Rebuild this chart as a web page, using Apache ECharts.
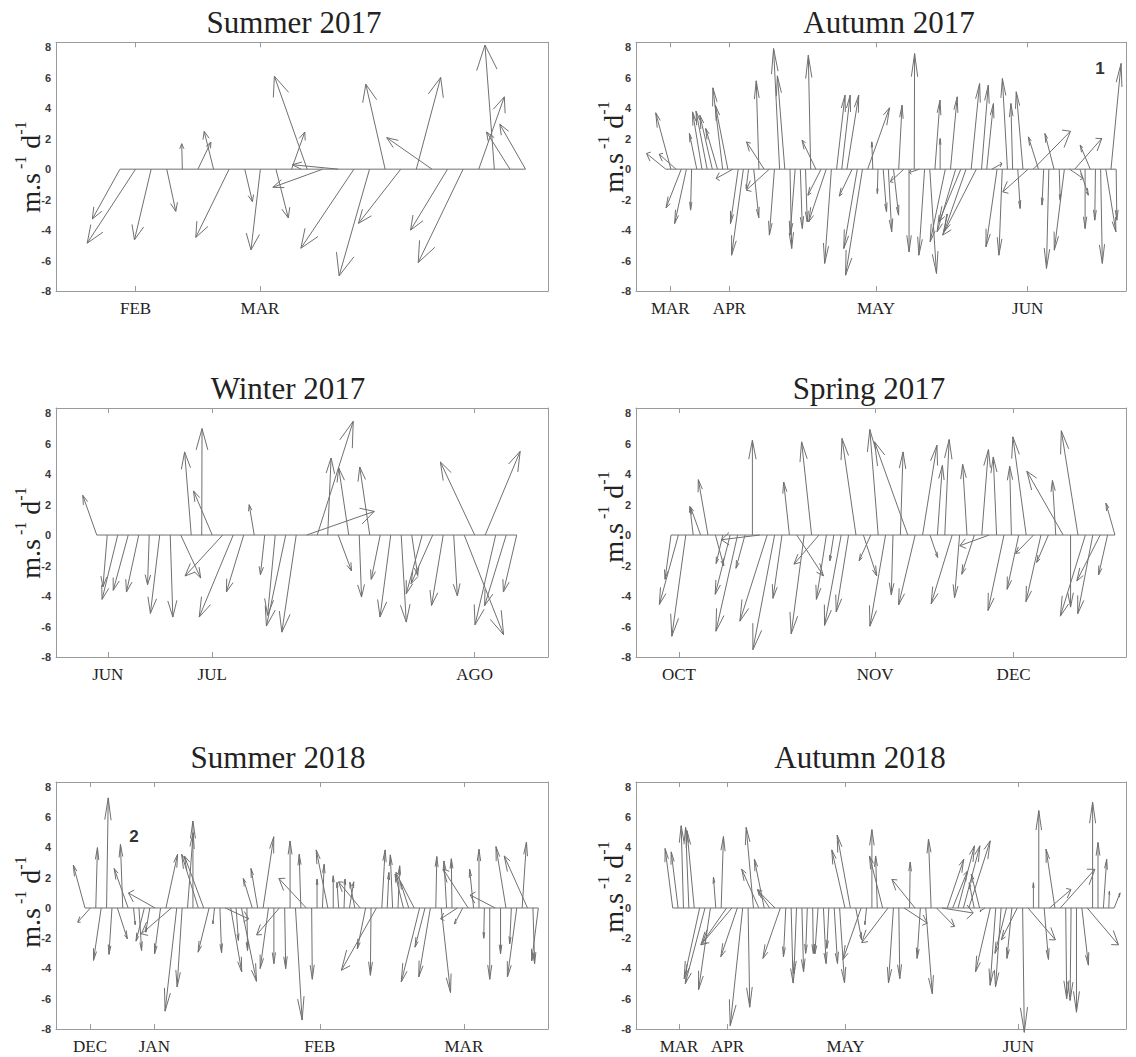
<!DOCTYPE html>
<html>
<head>
<meta charset="utf-8">
<script src="https://cdn.jsdelivr.net/npm/echarts@6/dist/echarts.min.js"></script>
<style>
  html, body { margin: 0; padding: 0; background: #fff; }
  #chart { width: 1136px; height: 1057px; }
</style>
</head>
<body>
<div id="chart"></div>
<script>
// Daily current vectors (u east, v north), one arrow per sample, drawn as feather plots.

// Summer 2017
const uSum17 = [-1.77, -3.10, -1.07, 0.58, -0.04, 0.83, -0.60, -2.14, 0.49, -0.60, 0.79, 0.85, -2.10, -3.20, -2.95, -3.40, -1.95, -1.24, -2.71, 1.56, -2.90, -2.37, -2.88, 1.64, -0.60, -1.50, -1.65];
const vSum17 = [-3.27, -4.86, -4.64, -2.77, 1.67, 1.78, 2.48, -4.48, -2.13, -5.30, -3.20, 2.44, 6.10, -1.19, 0.29, -5.19, -7.00, 5.58, -3.56, 6.02, 2.07, -4.00, -6.13, 4.75, 8.15, 2.44, 2.95];
const tickPosSum17 = [2.0, 9.97];
const tickLabSum17 = ['FEB', 'MAR'];

// Autumn 2017
const uAut17 = [-3.71, -2.93, -3.26, -2.93, -2.28, -0.20, -1.43, -1.82, -2.15, -2.41, -2.28, -1.89, -2.41, -3.26, -1.50, -2.28, -0.46, 0.98, -0.52, -3.39, -4.43, -0.98, -1.17, -1.43, 0.33, -0.98, 0.39, 0.33, -0.46, -2.67, -2.54, -3.39, -1.30, 1.63, 1.63, 2.28, -2.48, -2.61, -3.26, 4.23, -0.20, -0.13, 0.65, 0.65, 0.98, 0.65, -2.61, 0.00, 0.07, -1.95, -1.11, 1.30, 0.98, 0.00, -2.93, 1.30, -3.58, -4.23, -4.23, 1.63, -6.51, 1.30, 1.30, 1.95, -2.15, -0.65, -0.98, -0.33, 0.46, -1.30, -4.89, 7.17, -1.95, -0.33, -0.46, -1.76, 0.20, -1.95, 2.61, 5.21, 1.63, 0.00, -1.95, -0.13, 0.33, 1.95, 1.95, 0.13];
const vAut17 = [1.03, 3.70, 0.98, -2.54, -3.57, -2.69, 2.34, 3.76, 3.81, 3.54, 2.67, 5.34, 4.20, -0.61, -3.57, -5.65, -1.27, -3.19, 5.80, 1.79, -1.38, -4.33, 7.92, 6.13, -5.21, -4.33, -3.90, -3.46, 7.48, 1.90, -1.71, -3.46, -6.19, 4.86, 4.86, 4.86, -1.77, -5.21, -6.96, 4.03, 1.79, -1.60, -2.80, -4.11, -3.02, 4.20, -0.83, -5.43, 7.59, -0.22, -5.65, -6.85, 4.53, 2.01, -4.77, 4.75, -4.11, -3.46, -4.11, 5.62, -4.33, 5.51, 4.31, 0.37, -5.10, -5.65, 5.95, 4.31, -2.58, 5.08, -1.49, 2.49, 2.12, -2.36, -6.52, 2.34, -2.04, -5.32, -0.61, 2.01, -1.71, -3.90, 1.58, -3.35, -6.19, -4.11, 6.94, -3.35];
const tickPosAut17 = [1.89, 13.3, 41.6, 70.9];
const tickLabAut17 = ['MAR', 'APR', 'MAY', 'JUN'];

// Winter 2017
const uWin17 = [-1.33, -0.41, -1.49, -1.43, -1.17, -0.16, -0.89, 0.25, 1.90, -0.63, 0.03, -1.78, -3.59, -3.24, -1.65, -0.48, -0.41, -0.73, -1.84, -1.37, 6.44, 3.43, 0.32, 1.27, -0.95, 0.22, -0.95, -0.86, -1.02, 0.48, 0.57, -1.52, -2.06, -1.11, 0.35, 3.75, -3.27, 3.33, -1.97, -2.06, -1.27];
const vWin17 = [2.60, -3.41, -4.22, -3.63, -3.74, -3.26, -5.14, -5.38, -2.82, 5.45, 6.98, 2.89, -2.69, -5.38, -3.74, 1.99, -2.60, -5.27, -5.97, -6.37, 1.55, 7.46, 5.05, -2.36, 4.40, -4.07, 4.46, -2.91, -5.38, -5.71, -2.65, -3.85, -3.19, -4.62, -4.00, -6.54, 4.79, 5.49, -5.89, -4.64, -3.74];
const tickPosWin17 = [2.05, 12.0, 37.0];
const tickLabWin17 = ['JUN', 'JUL', 'AGO'];

// Spring 2017
const uSpr17 = [-0.81, -2.57, -1.89, -0.45, -1.35, -1.31, 1.13, -0.90, -2.03, -2.93, -1.22, 0.00, -5.18, -3.69, -2.93, -1.22, -0.77, 3.60, -1.76, -1.35, -3.38, -1.35, -0.54, -2.25, -1.67, -1.89, 1.80, -1.58, -1.13, -2.12, -0.23, 0.36, -4.50, -2.25, 1.94, 1.04, 0.68, 0.59, -2.84, -0.68, -0.59, -1.71, 0.90, -3.96, -0.45, -2.16, -0.23, -1.58, -1.80, -2.43, -2.03, -1.58, -0.45, -4.91, 0.00, -2.25, -3.38, -2.03, -3.15, -1.22, -1.22];
const vSpr17 = [-2.90, -4.55, -6.64, 1.87, 1.82, 3.63, -2.02, -1.87, -3.89, -6.31, -2.18, 6.22, -0.31, -5.65, -7.52, -4.15, 3.47, -2.68, -6.48, 6.11, -1.91, -4.22, -1.69, -5.93, -5.05, 6.33, -2.68, -1.69, 6.92, -5.98, -3.93, 5.45, 6.11, -4.59, 5.89, -1.47, 4.57, 6.26, -4.51, -4.11, 4.64, -2.57, 5.60, -0.70, 5.12, -4.95, 4.51, -3.56, 6.44, -1.21, -4.37, -1.80, 3.58, 4.18, -4.73, 6.84, -5.32, -5.16, -3.01, -2.62, 2.09];
const tickPosSpr17 = [2.08, 28.6, 47.3];
const tickLabSpr17 = ['OCT', 'NOV', 'DEC'];

// Summer 2018
const uSum18 = [-2.16, -2.35, 0.31, -1.42, 0.31, -0.56, 1.85, -0.43, -2.59, 0.31, 0.49, -1.54, -0.74, -4.94, -1.11, 2.16, -5.56, -2.16, -0.93, 1.05, 0.00, -3.09, -3.58, -2.04, -0.31, 0.31, 4.32, 2.04, 0.43, 2.78, 0.12, -1.67, -1.24, 1.98, -1.54, 0.00, -4.20, 0.19, 0.00, 1.24, -0.31, -5.06, 0.12, 0.00, 0.31, -2.16, 0.00, -0.31, 0.19, 0.80, -0.93, -4.01, -1.54, -0.12, -6.49, 0.62, 0.31, -0.43, 0.31, -1.54, -1.54, -3.40, -3.40, -1.85, -2.16, 0.19, 1.73, -0.49, -0.12, -3.09, -1.54, -4.63, -0.74, 0.00, -0.12, 0.00, -4.63, 0.00, -1.85, -0.31, -1.73, 0.80, -4.32, 0.31, -1.24];
const vSum18 = [2.83, -0.94, 3.99, -3.46, 7.28, -3.07, -2.04, 4.21, 2.61, -1.10, -2.81, -2.19, -1.60, 0.99, -3.03, 3.55, -1.71, -6.82, -5.22, 4.98, 5.75, 3.55, 3.44, -2.92, -1.05, -2.96, -0.72, -4.23, -2.15, -4.85, -2.81, 1.95, 2.61, 4.71, -4.00, -3.68, -1.78, -4.01, 4.43, -7.41, 3.55, 1.95, -4.71, 1.91, 2.89, 3.84, 2.13, 1.69, 1.91, 1.73, 1.70, 1.73, -2.70, -4.45, -4.12, 3.84, 2.35, 3.51, 2.79, 2.24, 1.69, 2.35, -4.89, -2.59, -4.56, 3.40, -5.59, 3.11, 3.26, -0.72, -1.05, 2.57, 2.57, 3.88, -2.00, -4.71, 0.86, -3.03, 4.06, -2.37, -4.56, 4.36, 3.44, -3.68, -3.50];
const tickPosSum18 = [1.93, 13.85, 44.5, 71.2];
const tickLabSum18 = ['DEC', 'JAN', 'FEB', 'MAR'];

// Autumn 2018
const uAut18 = [-1.41, -1.28, -0.43, -0.61, -1.35, -2.87, -3.67, -2.20, -0.43, 0.43, -4.77, -5.50, -3.06, -2.32, 0.31, -1.35, -3.18, -1.83, -2.26, -3.06, -3.24, -0.43, 0.37, -0.49, 0.31, -0.31, 0.12, -0.61, 0.49, -0.37, 0.61, 0.92, -2.45, -2.45, 1.10, -3.36, -0.31, 0.00, -0.31, -2.45, -4.89, -0.92, 0.18, 4.28, 0.12, -4.28, -0.61, 1.22, -0.49, 3.36, 5.81, 3.06, 2.75, 3.06, 3.06, 3.98, -0.92, -1.53, -0.92, -2.75, -1.04, -1.04, -2.14, -0.92, -2.94, 0.31, 5.08, 0.00, 0.00, 0.80, 3.98, -1.65, 6.42, 0.18, -0.18, 0.00, 1.22, 5.81, 0.00, 0.00, 0.61, 0.12, 1.10];
const vAut18 = [3.93, 3.71, 5.44, 5.33, 5.11, -4.67, -5.00, -5.40, 2.04, 4.73, -2.44, -2.33, -3.22, -7.78, -6.56, 5.33, 2.56, 3.22, 1.22, 1.11, -3.33, -3.22, -4.96, -4.33, -4.22, -3.00, -3.00, -3.04, -3.67, -2.67, -3.67, -4.96, 3.84, 4.82, -2.11, -3.40, -1.10, 5.18, 3.44, 3.44, -2.29, -4.96, -4.67, -1.00, 3.04, 1.89, -3.33, -5.67, 4.56, -1.22, -0.33, 3.22, 2.44, 4.11, 4.11, 4.44, 1.67, 2.22, -0.22, -4.22, -5.11, -5.22, -3.00, -3.33, -2.10, -8.22, -2.11, 1.67, 6.44, -3.40, 1.22, 3.89, 2.56, -6.00, -6.11, -6.89, -3.78, -2.44, 7.00, 4.33, 3.22, 1.11, 1.00];
const tickPosAut18 = [2.18, 11.2, 33.1, 65.2];
const tickLabAut18 = ['MAR', 'APR', 'MAY', 'JUN'];

const yTicks = [-8, -6, -4, -2, 0, 2, 4, 6, 8];

const ARROW = '#707070';
const FRAME = '#9a9a9a';
const SERIF = '"Liberation Serif", "Times New Roman", serif';
const SANS = '"Liberation Sans", Arial, sans-serif';

// Panel layout: column / row of each plot and its horizontal index range.
const COL_LEFT = [56, 636];
const COL_WIDTH = [492, 490];
const ROW_TOP = [42.3, 408, 782];
const ROW_HEIGHT = [248.7, 249, 247];
const Y_MIN = -8, Y_MAX = 8.33;

const panels = [
  { title: 'Summer 2017', u: uSum17, v: vSum17, ticks: tickPosSum17, labels: tickLabSum17, col: 0, row: 0, xMin: -3.10, xMax: 28.44, titleX: 294, yNameY: 167 },
  { title: 'Autumn 2017', u: uAut17, v: vAut17, ticks: tickPosAut17, labels: tickLabAut17, col: 1, row: 0, xMin: -4.74, xMax: 89.9, titleX: 889, yNameY: 147 },
  { title: 'Winter 2017', u: uWin17, v: vWin17, ticks: tickPosWin17, labels: tickLabWin17, col: 0, row: 1, xMin: -2.88, xMax: 43.98, titleX: 288, yNameY: 533 },
  { title: 'Spring 2017', u: uSpr17, v: vSpr17, ticks: tickPosSpr17, labels: tickLabSpr17, col: 1, row: 1, xMin: -3.73, xMax: 62.49, titleX: 869, yNameY: 517 },
  { title: 'Summer 2018', u: uSum18, v: vSum18, ticks: tickPosSum18, labels: tickLabSum18, col: 0, row: 2, xMin: -4.37, xMax: 86.79, titleX: 278, yNameY: 902 },
  { title: 'Autumn 2018', u: uAut18, v: vAut18, ticks: tickPosAut18, labels: tickLabAut18, col: 1, row: 2, xMin: -5.82, xMax: 85.2, titleX: 860, yNameY: 887 }
];

const TITLE_Y = [22, 388, 757];
const YNAME_X = [28, 611];

// One feather arrow: shaft from (t,0) to (t+u,v) and a head built in data space.
function drawFeather(params, api) {
  const t = api.value(0), u = api.value(1), v = api.value(2);
  const base = api.coord([t, 0]);
  const tip = api.coord([t + u, v]);
  const h1 = api.coord([t + 0.8 * u - 0.08 * v, 0.8 * v + 0.08 * u]);
  const h2 = api.coord([t + 0.8 * u + 0.08 * v, 0.8 * v - 0.08 * u]);
  const style = { stroke: ARROW, lineWidth: 1, fill: null };
  return {
    type: 'group',
    children: [
      { type: 'polyline', shape: { points: [base, tip] }, style: style },
      { type: 'polyline', shape: { points: [h1, tip, h2] }, style: style }
    ]
  };
}

const grid = [], xAxis = [], yAxis = [], series = [], graphic = [];

panels.forEach(function (p, k) {
  grid.push({
    left: COL_LEFT[p.col], top: ROW_TOP[p.row],
    width: COL_WIDTH[p.col], height: ROW_HEIGHT[p.row],
    containLabel: false
  });
  const frame = { show: true, onZero: false, lineStyle: { color: FRAME, width: 1 } };
  const monthName = function (val) {
    let best = 0;
    p.ticks.forEach(function (t, j) { if (Math.abs(t - val) < Math.abs(p.ticks[best] - val)) best = j; });
    return p.labels[best];
  };
  xAxis.push({
    gridIndex: k, type: 'value', position: 'bottom', min: p.xMin, max: p.xMax,
    axisLine: frame,
    axisTick: { show: true, inside: true, length: 5, customValues: p.ticks, lineStyle: { color: FRAME } },
    axisLabel: { show: true, customValues: p.ticks, formatter: monthName, margin: 9,
      fontFamily: SERIF, fontSize: 17, color: '#222' },
    splitLine: { show: false }
  });
  xAxis.push({
    gridIndex: k, type: 'value', position: 'top', min: p.xMin, max: p.xMax,
    axisLine: frame,
    axisTick: { show: true, inside: true, length: 5, customValues: p.ticks, lineStyle: { color: FRAME } },
    axisLabel: { show: false },
    splitLine: { show: false }
  });
  yAxis.push({
    gridIndex: k, type: 'value', position: 'left', min: Y_MIN, max: Y_MAX,
    axisLine: frame,
    axisTick: { show: false },
    axisLabel: { show: true, customValues: yTicks, margin: 5,
      fontFamily: SANS, fontWeight: 'bold', fontSize: 11, color: '#3a3a3a' },
    splitLine: { show: false }
  });
  yAxis.push({
    gridIndex: k, type: 'value', position: 'right', min: Y_MIN, max: Y_MAX,
    axisLine: frame, axisTick: { show: false }, axisLabel: { show: false },
    splitLine: { show: false }
  });

  // zero line joining the first and last sample
  series.push({
    type: 'line', xAxisIndex: 2 * k, yAxisIndex: 2 * k,
    data: [[1, 0], [p.u.length, 0]],
    showSymbol: false, symbol: 'none', silent: true,
    lineStyle: { color: ARROW, width: 1 }, z: 2
  });
  series.push({
    type: 'custom', xAxisIndex: 2 * k, yAxisIndex: 2 * k,
    data: p.u.map(function (uu, j) { return [j + 1, uu, p.v[j]]; }),
    encode: { x: 0, y: 2 },
    renderItem: drawFeather, silent: true, clip: false, z: 3
  });

  graphic.push({
    type: 'text', x: p.titleX, y: TITLE_Y[p.row],
    style: { text: p.title, font: '31px ' + SERIF, fill: '#222', align: 'center', verticalAlign: 'middle' }
  });
  graphic.push({
    type: 'text', x: YNAME_X[p.col], y: p.yNameY, rotation: Math.PI / 2,
    style: {
      text: '{a|m.s}{b| -1}{a| d}{b|-1}',
      align: 'center', verticalAlign: 'middle', fill: '#222',
      rich: {
        a: { fontFamily: SERIF, fontSize: 28, lineHeight: 32, verticalAlign: 'bottom', fill: '#222' },
        b: { fontFamily: SERIF, fontSize: 16, lineHeight: 16, verticalAlign: 'top', fill: '#222' }
      }
    }
  });
});

// event markers
graphic.push({ type: 'text', x: 1100, y: 68, style: { text: '1', font: 'bold 17px ' + SANS, fill: '#333', align: 'center', verticalAlign: 'middle' } });
graphic.push({ type: 'text', x: 134, y: 836, style: { text: '2', font: 'bold 17px ' + SANS, fill: '#333', align: 'center', verticalAlign: 'middle' } });

const chart = echarts.init(document.getElementById('chart'), null, { renderer: 'svg' });
chart.setOption({
  animation: false,
  backgroundColor: '#fff',
  grid: grid, xAxis: xAxis, yAxis: yAxis, series: series, graphic: graphic
});
</script>
</body>
</html>
